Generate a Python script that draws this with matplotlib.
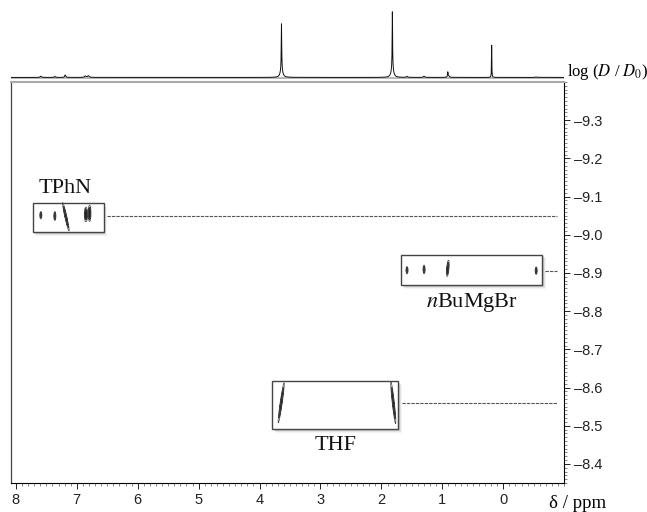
import numpy as np
import matplotlib
matplotlib.use("Agg")
import matplotlib.pyplot as plt
import matplotlib.patches as mpatches
from matplotlib.transforms import offset_copy
from matplotlib.ticker import MultipleLocator, FixedLocator, FuncFormatter

plt.rcParams['font.family'] = ['Liberation Serif', 'DejaVu Serif']
plt.rcParams['mathtext.fontset'] = 'stix'

# 1D projection: (shift / ppm, relative height, half width / ppm)
proj_shift = [7.59, 7.36, 7.19, 6.86, 6.81, 3.64, 3.64, 1.82, 1.82, 1.58, 1.30, 0.91, 0.90, 0.19, -0.54]
proj_height = [0.015, 0.012, 0.03, 0.018, 0.02, 0.55, 0.11, 0.69, 0.12, 0.012, 0.015, 0.055, 0.02, 0.40, 0.006]
proj_width = [0.012, 0.01, 0.01, 0.015, 0.015, 0.004, 0.02, 0.004, 0.02, 0.012, 0.012, 0.005, 0.015, 0.003, 0.01]

# 2D cross peaks: shift, log D, width in shift, width in log D, skew (d shift / d logD)
peak_shift = [7.59, 7.36, 7.18, 6.85, 6.79, 1.58, 1.30, 0.91, -0.54, 3.645, 1.805]
peak_logd = [-9.051, -9.049, -9.047, -9.053, -9.056, -8.907, -8.909, -8.912, -8.906, -8.560, -8.560]
peak_wshift = [0.009, 0.009, 0.009, 0.014, 0.012, 0.009, 0.009, 0.010, 0.009, 0.009, 0.009]
peak_wlogd = [0.005, 0.006, 0.019, 0.01, 0.011, 0.005, 0.006, 0.011, 0.005, 0.027, 0.028]
peak_skew = [0.0, 0.0, -1.4, 0.0, 0.0, 0.0, 0.0, 0.5, 0.0, 0.9, -0.7]

# species: label, fitted log D, box (shift range, log D range), label position
species = ["TPhN", "$n$BuMgBr", "THF"]
species_logd = [-9.05, -8.905, -8.56]
box_shift = [(7.72, 6.56), (1.675, -0.64), (3.79, 1.72)]
box_logd = [(-9.083, -9.007), (-8.947, -8.868), (-8.617, -8.491)]
line_start = [6.50, -0.69, 1.66]
label_pos = [(7.19, -9.109), (0.51, -8.810), (2.76, -8.436)]

xlim = (8.08, -1.0)
ylim = (-8.35, -9.40)

fig = plt.figure(figsize=(6.47, 5.12), dpi=100)
ax = fig.add_axes([0.017, 0.0566, 0.855, 0.7834])
axp = fig.add_axes([0.017, 0.844, 0.855, 0.156], sharex=ax)

# projection on top
x = np.linspace(xlim[1], xlim[0], 12000)
spec = np.zeros_like(x)
for s, h, w in zip(proj_shift, proj_height, proj_width):
    spec += h * w**2 / ((x - s)**2 + w**2)
axp.axhline(-0.005, color='#aaaaaa', lw=1.2, zorder=1)
axp.plot(x, spec, color='#111111', lw=0.7, zorder=2)
axp.set_ylim(-0.03, 0.95)
axp.axis('off')

# contour map
gx = np.linspace(xlim[1], xlim[0], 2400)
gy = np.linspace(ylim[1], ylim[0], 1200)
P, D = np.meshgrid(gx, gy)
Z = np.zeros_like(P)
for s, d, ws, wd, k in zip(peak_shift, peak_logd, peak_wshift, peak_wlogd, peak_skew):
    Z += np.exp(-0.5 * ((P - s - k * (D - d)) / ws)**2 - 0.5 * ((D - d) / wd)**2)
ax.contourf(P, D, Z, levels=[0.35, 100], colors=['#222222'], zorder=5)
ax.contour(P, D, Z, levels=[0.15, 0.35], colors=['#444444'], linewidths=0.5, zorder=5)

for name, d, bs, bd, xs, (lx, ly) in zip(species, species_logd, box_shift,
                                           box_logd, line_start, label_pos):
    x0, x1 = bs
    y0, y1 = bd
    # soft drop shadow, offset in pixels
    for off, a in [(1.5, 0.18), (2.5, 0.12), (3.5, 0.07)]:
        tr = offset_copy(ax.transData, fig=fig, x=off, y=-off, units='dots')
        ax.add_patch(mpatches.Rectangle((x1, y0), x0 - x1, y1 - y0, transform=tr,
                                        facecolor='#666666', edgecolor='none',
                                        alpha=a, zorder=2))
    ax.add_patch(mpatches.Rectangle((x1, y0), x0 - x1, y1 - y0, facecolor='white',
                                    edgecolor='none', zorder=3))
    ax.add_patch(mpatches.Rectangle((x1, y0), x0 - x1, y1 - y0, facecolor='none',
                                    edgecolor='#444444', lw=1.0, zorder=6))
    ax.plot([xs, -0.89], [d, d], color='#555555', lw=0.8, ls=(0, (3, 1)), zorder=3)
    ax.text(lx, ly, name, fontsize=16, ha='center', va='baseline', color='#111111')

ax.set_xlim(*xlim)
ax.set_ylim(*ylim)

ax.xaxis.set_major_locator(FixedLocator(np.arange(0, 9)))
ax.xaxis.set_minor_locator(MultipleLocator(0.1))
ax.yaxis.set_major_locator(FixedLocator(np.round(np.arange(-9.3, -8.35, 0.1), 1)))
ax.yaxis.set_minor_locator(MultipleLocator(0.01))
ax.xaxis.set_major_formatter(FuncFormatter(lambda v, p: '%d' % round(v)))
ax.yaxis.set_major_formatter(FuncFormatter(lambda v, p: ('%.1f' % v).replace('-', '\u2013')))
ax.yaxis.tick_right()
ax.tick_params(which='major', direction='out', length=4.5, width=0.7,
               labelsize=10.5, pad=2.5, colors='#222222')
ax.tick_params(which='minor', direction='out', length=2.2, width=0.5, colors='#555555')
for lab in ax.get_xticklabels() + ax.get_yticklabels():
    lab.set_family(['Liberation Sans', 'DejaVu Sans'])

ax.spines['top'].set_color('#aaaaaa')
ax.spines['top'].set_linewidth(1.5)
ax.spines['left'].set_color('#444444')
ax.spines['left'].set_linewidth(0.9)
ax.spines['right'].set_linewidth(0.8)
ax.spines['bottom'].set_linewidth(0.8)

fig.text(0.892, 0.017, '\u03b4 / ppm', fontsize=13.5, ha='center', va='center')
fig.text(0.876, 0.859, r'log ($D$ / $D_0$)', fontsize=12, ha='left', va='center')

fig.savefig('out.png', dpi=100)
